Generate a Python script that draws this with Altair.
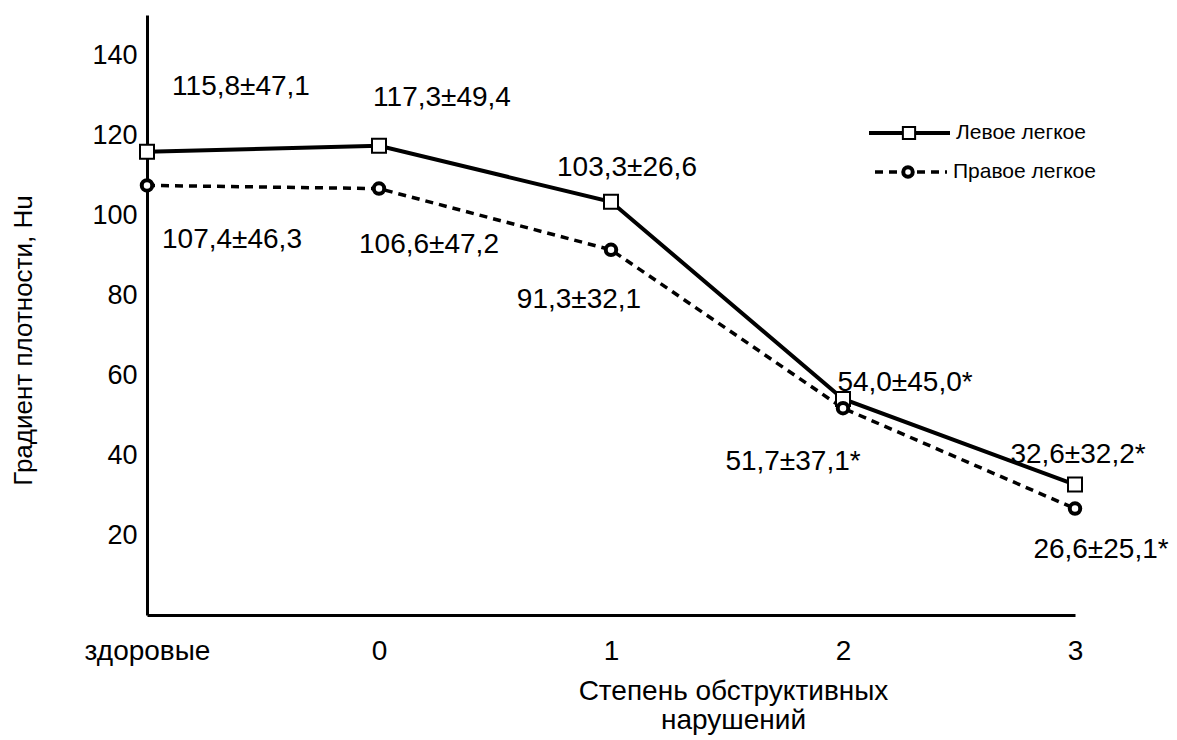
import altair as alt
import pandas as pd

FONT = "Liberation Sans"

categories = ["здоровые", "0", "1", "2", "3"]
series_names = ["Левое легкое", "Правое легкое"]

left_mean = [115.8, 117.3, 103.3, 54.0, 32.6]
left_sd = [47.1, 49.4, 26.6, 45.0, 32.2]
left_sig = [False, False, False, True, True]

right_mean = [107.4, 106.6, 91.3, 51.7, 26.6]
right_sd = [46.3, 47.2, 32.1, 37.1, 25.1]
right_sig = [False, False, False, True, True]

y_ticks = [20, 40, 60, 80, 100, 120, 140]
x_title = ["Степень обструктивных", "нарушений"]
y_title = "Градиент плотности, Hu"

# label offsets (style, pixels) relative to each point
left_offsets = [(94, -65), (63, -48), (16, -34), (62, -16), (3, -30)]
right_offsets = [(85, 55), (50, 56), (-32, 50), (-50, 54), (26, 41)]


def fmt(m, s, sig):
    t = f"{m:.1f}±{s:.1f}".replace(".", ",")
    return t + ("*" if sig else "")


rows = []
for name, means, sds, sigs in [
    (series_names[0], left_mean, left_sd, left_sig),
    (series_names[1], right_mean, right_sd, right_sig),
]:
    for c, m, s, g in zip(categories, means, sds, sigs):
        rows.append({"cat": c, "series": name, "value": m, "label": fmt(m, s, g)})
df = pd.DataFrame(rows)
legend_df = pd.DataFrame({"series": series_names})

x_enc = alt.X(
    "cat:O",
    sort=categories,
    scale=alt.Scale(type="point", padding=0),
    axis=alt.Axis(
        title=x_title,
        labelAngle=0,
        ticks=False,
        grid=False,
        domainWidth=3,
        domainColor="black",
        labelFontSize=28,
        labelFont=FONT,
        labelColor="black",
        labelPadding=22,
        titleFont=FONT,
        titleFontSize=28,
        titleFontWeight="normal",
        titleColor="black",
        titleX=586,
        titleY=62,
        titleAlign="center",
        titleBaseline="top",
        titleLineHeight=29,
    ),
)
y_enc = alt.Y(
    "value:Q",
    scale=alt.Scale(domain=[0, 150], nice=False, zero=True),
    axis=alt.Axis(
        values=y_ticks,
        title=y_title,
        ticks=False,
        grid=False,
        domainWidth=3,
        domainColor="black",
        labelFontSize=27,
        labelFont=FONT,
        labelColor="black",
        labelPadding=10,
        titleFont=FONT,
        titleFontSize=26,
        titleFontWeight="normal",
        titleColor="black",
        titleX=-124,
        titleY=325,
        titleAngle=-90,
        titleAlign="center",
        titleBaseline="middle",
    ),
)

base = alt.Chart(df).encode(x=x_enc, y=y_enc)

left = base.transform_filter(alt.datum.series == series_names[0])
right = base.transform_filter(alt.datum.series == series_names[1])

layers = [
    left.mark_line(color="black", strokeWidth=4),
    right.mark_line(color="black", strokeWidth=3.5, strokeDash=[8, 6]),
    left.mark_point(shape="square", size=196, fill="white", stroke="black",
                    strokeWidth=2, opacity=1, fillOpacity=1),
    right.mark_point(shape="circle", size=110, fill="white", stroke="black",
                     strokeWidth=4, opacity=1, fillOpacity=1),
]

for name, offs in [(series_names[0], left_offsets), (series_names[1], right_offsets)]:
    for c, (dx, dy) in zip(categories, offs):
        layers.append(
            base.transform_filter(
                (alt.datum.series == name) & (alt.datum.cat == c)
            ).mark_text(
                dx=dx, dy=dy, fontSize=28, font=FONT, color="black",
                align="center", baseline="middle"
            ).encode(text="label:N")
        )

# manual legend
leg = alt.Chart(legend_df)
leg0 = leg.transform_filter(alt.datum.series == series_names[0])
leg1 = leg.transform_filter(alt.datum.series == series_names[1])
layers += [
    leg0.mark_rule(color="black", strokeWidth=4).encode(
        x=alt.value(722), x2=alt.value(803), y=alt.value(118)),
    leg0.mark_point(shape="square", size=150, fill="white", stroke="black",
                    strokeWidth=2, opacity=1, fillOpacity=1).encode(
        x=alt.value(762), y=alt.value(118)),
    leg0.mark_text(align="left", baseline="middle", fontSize=21, font=FONT,
                   color="black").encode(
        x=alt.value(809), y=alt.value(118), text="series:N"),
    leg1.mark_rule(color="black", strokeWidth=3.5, strokeDash=[8, 6]).encode(
        x=alt.value(728), x2=alt.value(800), y=alt.value(157)),
    leg1.mark_point(shape="circle", size=90, fill="white", stroke="black",
                    strokeWidth=4, opacity=1, fillOpacity=1).encode(
        x=alt.value(761), y=alt.value(157)),
    leg1.mark_text(align="left", baseline="middle", fontSize=21, font=FONT,
                   color="black").encode(
        x=alt.value(806), y=alt.value(157), text="series:N"),
]

chart = alt.layer(*layers).properties(
    width=928,
    height=600,
    autosize=alt.AutoSizeParams(type="none"),
    padding={"left": 139, "top": 7, "right": 94, "bottom": 122},
    background="white",
).configure_view(stroke=None)

chart.save("out.html", embed_options={"renderer": "svg", "actions": False})
